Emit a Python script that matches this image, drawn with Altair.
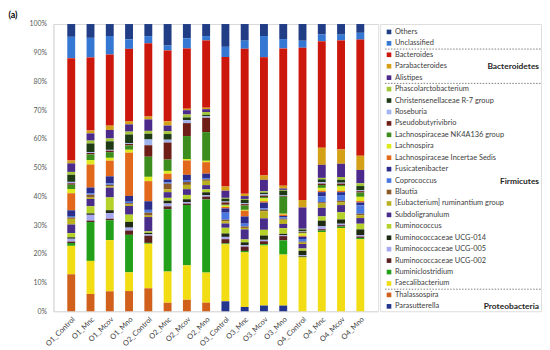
import altair as alt
import pandas as pd

samples = ["O1_Control", "O1_Mnc", "O1_Mcov", "O1_Mno",
           "O2_Control", "O2_Mnc", "O2_Mcov", "O2_Mno",
           "O3_Control", "O3_Mnc", "O3_Mcov", "O3_Mno",
           "O4_Control", "O4_Mnc", "O4_Mcov", "O4_Mno"]

# legend order (top of stack first)
taxa = ["Others", "Unclassified", "Bacteroides", "Parabacteroides", "Alistipes",
        "Phascolarctobacterium", "Christensenellaceae R-7 group", "Roseburia",
        "Pseudobutyrivibrio", "Lachnospiraceae NK4A136 group", "Lachnospira",
        "Lachnospiraceae Incertae Sedis", "Fusicatenibacter", "Coprococcus", "Blautia",
        "[Eubacterium] ruminantium group", "Subdoligranulum", "Ruminococcus",
        "Ruminococcaceae UCG-014", "Ruminococcaceae UCG-005", "Ruminococcaceae UCG-002",
        "Ruminiclostridium", "Faecalibacterium", "Thalassospira", "Parasutterella"]

colors = ["#203D85", "#3478D4", "#CC180C", "#D4A017", "#4B2A8C",
          "#A4C639", "#1E3B16", "#A0B4F0", "#6E1E16", "#3C8C1E",
          "#DDEB1E", "#E2691C", "#2C2C8C", "#4A78E0", "#8A5A28",
          "#B8B01E", "#4A2C8A", "#B4D22A", "#1E2A12", "#A8A8F0",
          "#5C2020", "#22A01A", "#F2DC14", "#D0601C", "#23358C"]

phyla = ["Bacteroidetes", "Firmicutes", "Proteobacteria"]
phylum_rows = [3, 13, 24]
separator_rows = [1.5, 4.5, 22.5]

y_ticks = [0, 0.1, 0.2, 0.3, 0.4, 0.5, 0.6, 0.7, 0.8, 0.9, 1.0]

# relative abundance (%) per sample, in legend order
O1_Control = [4.5, 7.5, 36, 1, 3, 1, 2.5, 0.5, 0.5, 1.5, 1.5, 6, 2, 0.5, 0.5, 2, 3, 1.5, 0.5, 1, 0.5, 1, 10, 13, 0]
O1_Mnc = [4.8, 6.8, 25.4, 1, 2.5, 1, 3, 0.3, 0.5, 2, 1.5, 8, 2, 0.5, 1, 0.5, 2.5, 2.5, 0.5, 2, 0.5, 13.5, 11.5, 6, 0]
O1_Mcov = [4.2, 6.5, 25, 1.5, 3, 1, 3, 0.3, 0.5, 2, 1, 5.5, 2.5, 0.5, 0.5, 0.5, 3.4, 4.5, 1, 2, 0.5, 7, 18, 7, 0]
O1_Mno = [5.3, 3.3, 25.2, 1, 2.5, 1, 3, 0.3, 0.5, 1.5, 1, 15, 2, 0.5, 0.5, 0.5, 3, 2.5, 2, 1, 1.5, 13, 6.5, 7, 0]
O2_Control = [4.2, 2.5, 25.5, 1, 4, 1, 2, 2, 4, 7, 1.5, 7, 3, 1, 1, 0.5, 5, 0.5, 0.5, 0.5, 2.5, 0.3, 15.5, 8, 0]
O2_Mnc = [7.6, 1.7, 25, 1.5, 2, 1, 2, 1, 6, 4, 1, 2, 1, 0.5, 2, 1, 2, 1, 1, 1, 1, 22, 11, 3, 0]
O2_Mcov = [5, 3.5, 21, 0.5, 1.5, 1, 1, 1, 4.5, 8, 0.5, 5, 2, 0.5, 1, 1.5, 2, 1.5, 1, 0.5, 0.5, 21, 12, 4, 0]
O2_Mno = [4.2, 1.5, 23.5, 0.5, 1, 1, 0.5, 0.5, 5, 10, 0.5, 4, 1.5, 0.5, 0.5, 1.5, 1.5, 1, 1, 0.5, 1, 25.5, 10.5, 3, 0]
O3_Control = [8, 3.6, 45.4, 1.5, 2.5, 0.3, 1, 0.3, 0.8, 0.3, 0.5, 0.5, 1.5, 2.5, 0.5, 0.8, 1.5, 2, 1.2, 0.8, 1.5, 0.3, 20, 0, 3.5]
O3_Mnc = [5.8, 2.8, 50.5, 0.8, 1, 0.3, 1.2, 0.3, 0.5, 1.5, 0.3, 2, 2.5, 1, 0.5, 0.5, 3.5, 1, 1, 0.5, 1.5, 0.5, 19, 0, 1.5]
O3_Mcov = [4.2, 7.4, 41.4, 1.5, 4, 0.5, 0.5, 0.5, 0.5, 0.5, 1, 0.5, 2, 0.5, 0.5, 2.5, 4, 2, 1.5, 0.5, 1, 0.5, 21, 0, 2]
O3_Mno = [5.3, 3.3, 48.4, 1, 0.5, 0.3, 1.5, 0.3, 0.3, 6, 0.3, 0.5, 0.5, 0.5, 0.3, 1.5, 1.5, 2, 0.5, 0.3, 1.5, 5, 18, 0, 2]
O4_Control = [5.8, 2.5, 53, 2.6, 7.4, 0.3, 0.5, 0.3, 0.3, 0.3, 0.8, 0.3, 0.8, 1, 0.3, 0.5, 1.5, 0.8, 1.5, 0.3, 0.3, 0.3, 18.7, 0, 0]
O4_Mnc = [3.7, 2.3, 37.4, 6, 4.6, 0.5, 1, 0.5, 0.5, 1, 1, 0.5, 1.5, 2, 0.5, 1.5, 3, 1.5, 2, 1, 0.5, 0.5, 27.8, 0, 0]
O4_Mcov = [3.7, 2, 38, 5, 4.6, 1, 1, 0.3, 0.5, 0.5, 1.5, 0.5, 1, 2, 0.5, 1, 2.5, 2.5, 1.5, 0.5, 0.5, 0.5, 29, 0, 0]
O4_Mno = [3.1, 2.4, 41, 5, 4.7, 1, 1.5, 0.3, 0.5, 1.5, 1.5, 0.5, 1, 3, 0.5, 1, 2, 2, 2, 0.5, 0.5, 0.5, 25.4, 0, 0]

values_by_sample = [O1_Control, O1_Mnc, O1_Mcov, O1_Mno,
                    O2_Control, O2_Mnc, O2_Mcov, O2_Mno,
                    O3_Control, O3_Mnc, O3_Mcov, O3_Mno,
                    O4_Control, O4_Mnc, O4_Mcov, O4_Mno]

rows = []
for s, vals in zip(samples, values_by_sample):
    for i, (t, v) in enumerate(zip(taxa, vals)):
        rows.append({"sample": s, "taxon": t, "value": v, "stack_order": len(taxa) - 1 - i})
df = pd.DataFrame(rows)

FONT = "Lato"
color_scale = alt.Scale(domain=taxa, range=colors)

y_axis = alt.Axis(format=".0%", values=y_ticks, labelFontSize=7,
                  labelColor="#595959", ticks=False, grid=True,
                  gridColor=alt.condition("datum.value >= 0.999", alt.value("#d9d9d9"),
                                          alt.value("transparent")),
                  domainColor="#d9d9d9", minExtent=45, labelPadding=7, labelFont=FONT,
                  labelOverlap=False, labelBound=False, labelFlush=False)

plot = alt.Chart(df).mark_bar(strokeWidth=0).encode(
    x=alt.X("sample:N", sort=samples, title=None,
            scale=alt.Scale(paddingInner=0.59, paddingOuter=0.72),
            axis=alt.Axis(labelAngle=-45, labelFontSize=7.5, labelColor="#404040", ticks=False,
                          domainColor="#d9d9d9", labelPadding=4, labelFont=FONT)),
    y=alt.Y("value:Q", stack="normalize", title=None,
            scale=alt.Scale(domain=[0, 1], nice=False), axis=y_axis),
    color=alt.Color("taxon:N", scale=color_scale, legend=None),
    order=alt.Order("stack_order:Q", sort="ascending"),
).properties(width=329, height=291)

leg_df = pd.DataFrame({"taxon": taxa, "row": list(range(len(taxa)))})
yscale = alt.Scale(domain=[-0.69, 24.43], reverse=True, nice=False, zero=False)

markers = alt.Chart(leg_df).mark_square(size=22, opacity=1).encode(
    x=alt.value(9),
    y=alt.Y("row:Q", scale=yscale, axis=None),
    color=alt.Color("taxon:N", scale=color_scale, legend=None),
)
labels = alt.Chart(leg_df).mark_text(align="left", baseline="middle", fontSize=7.5,
                                     color="#404040", font=FONT).encode(
    x=alt.value(15),
    y=alt.Y("row:Q", scale=yscale, axis=None),
    text="taxon:N",
)
ph_df = pd.DataFrame({"phylum": phyla, "row": phylum_rows})
ph_labels = alt.Chart(ph_df).mark_text(align="right", baseline="middle", fontSize=8.5,
                                       fontWeight="bold", color="#262626", font=FONT).encode(
    x=alt.value(161),
    y=alt.Y("row:Q", scale=yscale, axis=None),
    text="phylum:N",
)
sep_df = pd.DataFrame({"row": separator_rows})
seps = alt.Chart(sep_df).mark_rule(strokeDash=[1.5, 1.5], color="#7f7f7f", strokeWidth=1).encode(
    x=alt.value(5), x2=alt.value(163),
    y=alt.Y("row:Q", scale=yscale, axis=None),
)
legend = alt.layer(seps, markers, labels, ph_labels).properties(width=163, height=291)

chart = alt.hconcat(plot, legend, spacing=0).properties(
    title=alt.TitleParams("(a)", anchor="start", fontSize=9, fontWeight="bold", font=FONT,
                          offset=0, color="#000000"),
    padding=0,
).configure_view(stroke=None).configure(font=FONT)

chart.save("out.html", embed_options={"renderer": "svg", "actions": False})
